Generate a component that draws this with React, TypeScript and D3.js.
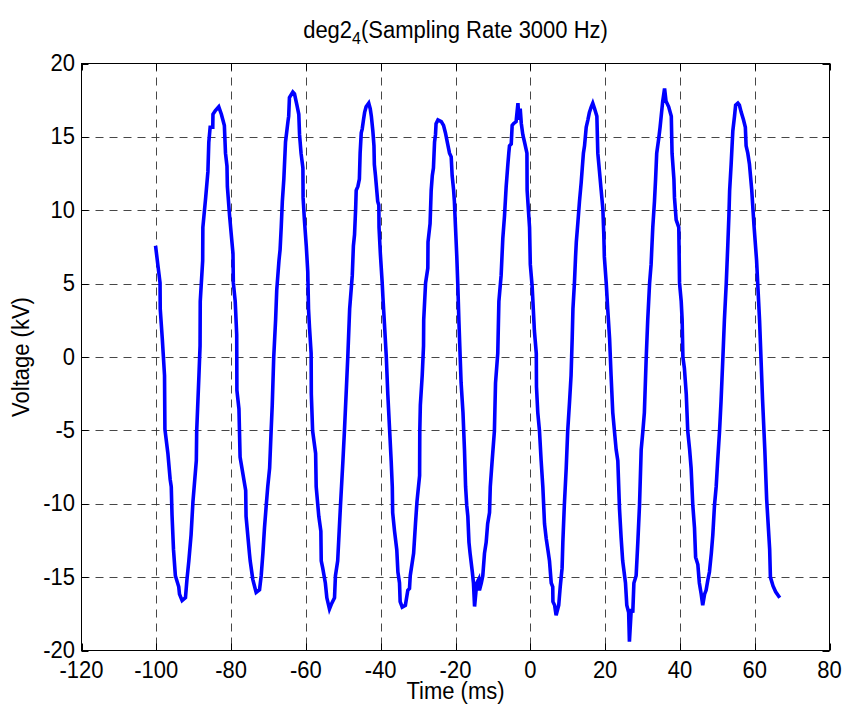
import React from 'react';
import * as d3 from 'd3';

const timeMs: number[] = [
  -100.2, -99.6, -99.0, -98.95, -98.4, -97.8, -97.7, -96.9, -96.3, -96.0, -95.8, -95.4, -94.9, -94.0, -93.8, -93.1, -92.2, -91.8, -91.3, -90.7,
  -90.2, -89.3, -89.2, -88.6, -88.3, -88.25, -87.6, -87.55, -86.8, -86.2, -85.96, -85.6, -84.9, -84.85, -84.2, -83.3, -82.6, -81.8, -81.5, -81.1,
  -81.0, -80.4, -79.5, -79.4, -78.9, -78.5, -78.45, -77.9, -77.6, -76.1, -76.0, -75.1,
  -74.9, -74.2, -73.7, -73.3, -72.4, -71.95, -71.5, -71.07, -70.6, -70.2, -69.7, -69.3, -69.0, -68.6, -68.1, -67.8, -67.2, -66.9, -66.6, -66.3,
  -65.9, -65.45, -64.8, -64.6, -64.4, -63.5, -63.05, -62.4, -61.9, -61.7, -61.3, -60.8, -60.75, -60.4, -59.9, -59.5, -59.3, -59.04, -58.6, -58.55,
  -58.2, -57.4, -57.25, -56.55, -56.0, -55.9, -55.5, -54.8, -54.4, -53.7, -53.1, -52.35, -52.1, -51.5, -51.2, -50.75,
  -50.1, -49.7, -49.2, -48.8, -48.3, -47.6, -47.3, -47.0, -46.7, -46.55, -46.1, -45.7, -45.5, -45.2, -44.95, -44.6, -44.3, -43.9, -43.2, -42.8,
  -42.5, -42.1, -41.8, -41.7, -41.4, -40.8, -40.5, -40.45, -40.1, -39.6, -39.4, -39.0, -38.5, -38.1, -37.6, -37.2, -36.9, -36.8, -36.3, -35.7,
  -35.4, -34.97, -34.8, -34.25, -33.4, -32.75, -32.3, -32.1, -31.2, -30.7, -30.3, -29.6, -29.55, -29.4, -28.9, -28.55, -28.5, -28.0, -27.4, -27.35,
  -26.8, -26.5, -26.2, -25.9, -25.6, -25.35, -25.2, -24.7, -23.8, -23.2, -22.7, -22.1, -21.6,
  -21.15, -20.9, -20.5, -20.3, -20.0, -19.65, -19.4, -19.1, -18.75, -18.5, -18.0, -17.6, -17.3, -17.0, -16.7, -16.4, -16.1, -15.5, -15.2, -14.9,
  -14.5, -14.3, -13.8, -13.6, -13.1, -12.7, -12.25, -11.8, -11.4, -10.9, -10.7, -10.2, -9.6, -9.3, -8.7, -8.4, -7.8, -7.35, -6.9, -6.45,
  -6.3, -6.0, -5.75, -5.56, -5.1, -4.85, -4.5, -3.8, -3.3, -3.07, -2.7, -2.4, -2.0, -1.55, -0.9, -0.85, -0.2, 0.0, 0.5, 1.1,
  1.6, 1.65, 2.0, 2.46, 2.9, 3.35, 3.8, 4.25, 4.7, 5.13,
  5.6, 6.0, 6.05, 6.5, 6.9, 7.6, 8.0, 8.5, 8.7, 9.1, 9.6, 10.0, 10.5, 10.9, 11.2, 11.4, 11.8, 12.1, 12.3, 12.7,
  13.15, 13.6, 13.9, 14.2, 14.5, 14.95, 15.4, 15.8, 16.3, 16.7, 17.2, 17.8, 18.05, 18.5, 18.95, 19.4, 19.65, 19.8, 20.3, 20.7,
  21.2, 21.6, 22.05, 22.5, 22.95, 23.4, 23.85, 24.3, 24.7, 25.45, 25.8, 26.3, 26.5, 27.0, 27.4, 27.7, 28.3, 28.75, 29.2, 29.65,
  30.1, 30.5, 31.0, 31.4, 31.9,
  32.3, 32.75, 33.2, 33.5, 33.8, 34.35, 34.7, 35.0, 35.4, 35.9, 36.3, 37.0, 37.7, 37.9, 38.4, 38.55, 39.0, 39.7, 39.9, 40.35,
  40.6, 40.8, 41.2, 41.7, 42.1, 42.6, 43.0, 43.45, 43.9, 44.2, 44.8, 45.2, 45.7, 46.1, 46.6, 47.0, 47.5, 47.9, 48.4, 48.8,
  49.25, 49.7, 50.1, 50.6, 51.0, 51.5, 51.9, 52.4, 52.8, 53.1, 53.3, 53.7, 54.15, 54.6, 54.9, 55.5, 55.9, 56.4, 57.0, 57.5,
  57.7, 58.15, 58.6, 59.2, 59.8, 60.5, 61.3, 62.1, 62.7, 63.2, 64.0, 64.2, 64.9, 65.6, 66.7,
];

const voltageKV: number[] = [
  7.58, 6.31, 5.05, 3.28, 1.26, -1.26, -4.92, -6.57, -8.33, -8.84, -10.73, -13.13, -14.9, -15.66, -16.16, -16.6, -16.4, -15.15, -13.89, -12.12,
  -9.85, -7.07, -5.05, -1.26, 0.76, 3.79, 6.57, 8.84, 10.86, 12.63, 14.65, 15.66, 15.66, 16.54, 16.79, 17.05, 16.54, 15.78, 13.89, 13.0,
  11.62, 9.6, 7.07, 5.05, 3.79, 1.52, -2.27, -3.54, -6.82, -9.09, -10.86, -13.38,
  -13.89, -15.15, -15.66, -16.04, -15.86, -14.9, -13.38, -11.62, -10.1, -8.84, -7.58, -5.05, -3.28, 0, 2.53, 4.55, 6.57, 7.32, 8.84, 10.6,
  12.12, 14.65, 16.04, 16.41, 17.68, 18.06, 17.93, 17.17, 16.54, 15.15, 13.89, 12.88, 10.86, 9.34, 7.58, 5.81, 3.28, 2.02, 0.25, -2.53,
  -5.05, -6.57, -8.84, -10.86, -11.87, -13.89, -14.39, -15.4, -16.41, -17.17, -16.79, -16.41, -14.9, -13.89, -12.37, -10.1,
  -7.07, -5.05, -2.27, 0, 3.28, 5.56, 7.58, 8.33, 10.1, 11.36, 11.62, 12.12, 13.89, 15.28, 15.53, 16.16, 16.67, 17.05, 17.3, 16.92,
  16.41, 15.4, 14.39, 13.13, 12.37, 10.6, 10.35, 8.84, 7.07, 5.05, 4.04, 2.27, 0, -2.53, -5.05, -7.07, -8.84, -10.6, -11.87, -13.13,
  -14.65, -15.4, -16.67, -17.05, -16.92, -15.9, -15.78, -14.9, -13.38, -11.36, -9.85, -8.08, -5.05, -3.28, -1.26, 0.76, 2.53, 5.05, 6.06, 7.83,
  9.09, 11.36, 12.37, 12.88, 14.65, 15.15, 15.9, 16.16, 16.04, 15.78, 15.28, 14.52, 13.89,
  13.64, 12.37, 11.36, 10.6, 8.84, 6.82, 5.05, 2.53, 0, -1.77, -3.79, -6.31, -8.84, -10.1, -10.86, -12.63, -13.38, -14.65, -15.4, -17.0,
  -15.9, -15.4, -15.15, -15.9, -15.4, -14.9, -13.38, -12.63, -11.36, -10.6, -8.84, -7.07, -5.05, -1.77, 0.25, 3.79, 5.56, 8.08, 9.6, 11.62,
  12.12, 13.13, 13.89, 14.39, 14.52, 15.78, 15.9, 16.04, 17.3, 16.16, 16.92, 15.9, 15.15, 14.65, 13.89, 11.36, 8.84, 6.31, 4.8, 1.77,
  0.25, -2.02, -3.79, -5.05, -7.07, -8.84, -11.36, -12.37, -13.13, -13.89,
  -15.4, -15.66, -16.67, -16.92, -17.6, -16.92, -15.66, -14.39, -12.63, -10.1, -7.58, -5.05, -3.03, -1.26, 1.26, 3.28, 5.05, 6.82, 7.83, 9.09,
  10.6, 11.87, 12.88, 13.89, 14.39, 15.66, 16.16, 16.67, 17.05, 17.3, 16.92, 16.41, 13.89, 12.63, 11.36, 10.1, 8.33, 6.82, 5.05, 3.28,
  1.26, -1.26, -3.79, -5.05, -6.31, -7.07, -10.35, -12.37, -13.89, -15.4, -16.92, -17.42, -19.4, -17.17, -17.42, -15.4, -14.9, -12.63, -10.1, -6.31,
  -5.05, -3.79, 0, 2.53, 5.05,
  6.31, 8.84, 10.6, 12.12, 13.89, 14.9, 15.66, 16.41, 17.42, 18.3, 17.42, 17.05, 16.41, 13.89, 12.12, 10.86, 9.34, 8.84, 5.05, 3.79,
  2.53, 0, -0.76, -2.53, -5.05, -6.31, -7.58, -10.1, -11.62, -13.64, -14.14, -15.4, -16.16, -16.92, -16.16, -15.9, -15.15, -14.65, -13.38, -12.12,
  -10.1, -8.84, -7.07, -5.05, -3.03, 0, 2.53, 5.05, 7.58, 9.6, 11.36, 13.13, 15.4, 16.41, 17.17, 17.3, 17.17, 16.67, 16.16, 15.66,
  14.39, 13.89, 13.13, 11.4, 9.0, 6.6, 2.5, -2.9, -6.3, -9.7, -13.1, -15.0, -15.6, -16.0, -16.4,
];

const xTicks: number[] = [-120, -100, -80, -60, -40, -20, 0, 20, 40, 60, 80];
const yTicks: number[] = [-20, -15, -10, -5, 0, 5, 10, 15, 20];
const titleMain = 'deg2';
const titleSub = '4';
const titleRest = '(Sampling Rate 3000 Hz)';
const xLabel = 'Time (ms)';
const yLabel = 'Voltage (kV)';

const FONT = '"Liberation Sans", Arial, Helvetica, sans-serif';

export default function App() {
  const W = 845;
  const H = 711;
  const left = 81.5, right = 829.5, top = 63.5, bottom = 650.5;
  const x = d3.scaleLinear().domain([-120, 80]).range([left, right]);
  const y = d3.scaleLinear().domain([-20, 20]).range([bottom, top]);
  const pts: [number, number][] = timeMs.map((t, i) => [t, voltageKV[i]]);
  const line = d3.line<[number, number]>().x(d => x(d[0])).y(d => y(d[1]));
  const tickLen = 7;
  const fs = 22;
  const sy = 1.06;

  const T = (props: { x: number; y: number; anchor: string; children: React.ReactNode; rotate?: boolean; k: string }) => (
    <g key={props.k} transform={`translate(${props.x},${props.y})${props.rotate ? ' rotate(-90)' : ''} scale(1,${sy})`}>
      <text x={0} y={0} textAnchor={props.anchor as any} fontSize={fs} fill="#000">{props.children}</text>
    </g>
  );

  return (
    <div style={{ position: 'absolute', left: 0, top: 0, width: W, height: H, background: '#fff' }}>
      <svg width={W} height={H} style={{ display: 'block' }} fontFamily={FONT}>
        <rect x={0} y={0} width={W} height={H} fill="#fff" />
        {/* grid */}
        <g stroke="#000" strokeWidth={0.9} strokeDasharray="8,6" opacity={0.8}>
          {xTicks.slice(1, -1).map(t => (
            <line key={'gx' + t} x1={Math.round(x(t)) + 0.5} x2={Math.round(x(t)) + 0.5} y1={top} y2={bottom} />
          ))}
          {yTicks.slice(1, -1).map(v => (
            <line key={'gy' + v} x1={left} x2={right} y1={Math.round(y(v)) + 0.5} y2={Math.round(y(v)) + 0.5} />
          ))}
        </g>
        {/* ticks */}
        <g stroke="#000" strokeWidth={1}>
          {xTicks.map(t => (
            <g key={'tx' + t}>
              <line x1={Math.round(x(t)) + 0.5} x2={Math.round(x(t)) + 0.5} y1={bottom} y2={bottom - tickLen} />
              <line x1={Math.round(x(t)) + 0.5} x2={Math.round(x(t)) + 0.5} y1={top} y2={top + tickLen} />
            </g>
          ))}
          {yTicks.map(v => (
            <g key={'ty' + v}>
              <line x1={left} x2={left + tickLen} y1={Math.round(y(v)) + 0.5} y2={Math.round(y(v)) + 0.5} />
              <line x1={right} x2={right - tickLen} y1={Math.round(y(v)) + 0.5} y2={Math.round(y(v)) + 0.5} />
            </g>
          ))}
        </g>
        {/* data */}
        <path d={line(pts) || ''} fill="none" stroke="#0000ff" strokeWidth={3.6} strokeLinejoin="miter" strokeMiterlimit={4} />
        {/* box */}
        <rect x={left} y={top} width={right - left} height={bottom - top} fill="none" stroke="#000" strokeWidth={1} />
        {/* tick labels */}
        {xTicks.map(t => T({ k: 'lx' + t, x: x(t), y: 678, anchor: 'middle', children: String(t) }))}
        {yTicks.map(v => T({ k: 'ly' + v, x: 75, y: y(v) + 7.5, anchor: 'end', children: String(v) }))}
        {/* title */}
        <g transform={`translate(${(left + right) / 2},38) scale(1,${sy})`}>
          <text x={0} y={0} textAnchor="middle" fontSize={fs} fill="#000">
            {titleMain}
            <tspan fontSize={16} dy={6}>{titleSub}</tspan>
            <tspan dy={-6}>{titleRest}</tspan>
          </text>
        </g>
        {/* axis labels */}
        {T({ k: 'xl', x: (left + right) / 2, y: 699, anchor: 'middle', children: xLabel })}
        {T({ k: 'yl', x: 29, y: (top + bottom) / 2, anchor: 'middle', children: yLabel, rotate: true })}
      </svg>
    </div>
  );
}
